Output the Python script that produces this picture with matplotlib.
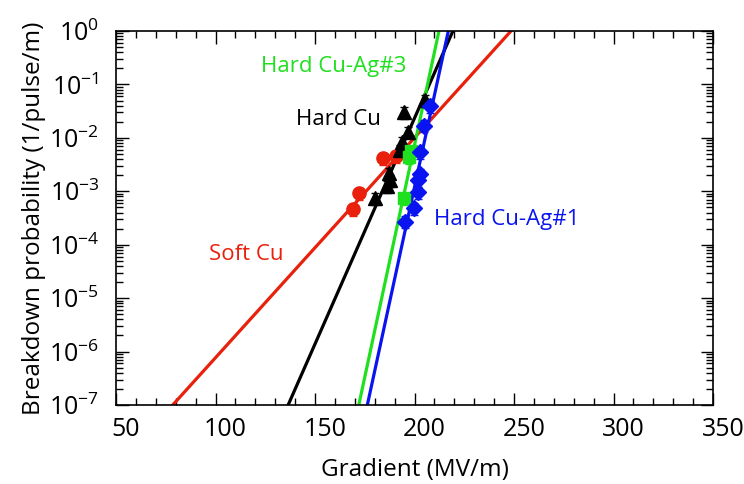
import matplotlib
matplotlib.use("Agg")
import matplotlib.pyplot as plt
import matplotlib.transforms as mtransforms
import numpy as np
from matplotlib.ticker import LogLocator, MultipleLocator

plt.rcParams['font.family'] = ['Open Sans', 'DejaVu Sans']
plt.rcParams['mathtext.fontset'] = 'custom'
plt.rcParams['mathtext.rm'] = 'Open Sans'
plt.rcParams['mathtext.it'] = 'Open Sans'

# Soft Cu (red circles)
soft_g = [169.1, 172.1, 184.2, 190.7]
soft_p = [4.6e-4, 9.3e-4, 4.2e-3, 4.6e-3]
soft_fit_g = [78.5, 248.5]

# Hard Cu (black triangles)
hcu_g = [180.2, 186.2, 187.7, 187.2, 192.7, 193.7, 196.7, 194.7, 205.3]
hcu_p = [7.5e-4, 1.26e-3, 1.6e-3, 2.2e-3, 5.9e-3, 8.3e-3, 1.3e-2, 3.0e-2, 5.1e-2]
hcu_fit_g = [136.5, 219.3]

# Hard Cu-Ag#3 (green)
ag3_g = [194.7, 197.2, 198.2]
ag3_p = [7.5e-4, 4.4e-3, 5.6e-3]
ag3_fit_g = [172.0, 212.3]

# Hard Cu-Ag#1 (blue diamonds)
ag1_g = [195.2, 199.7, 201.8, 201.8, 202.8, 202.8, 204.8, 207.8]
ag1_p = [2.7e-4, 4.9e-4, 9.7e-4, 1.6e-3, 2.1e-3, 5.4e-3, 1.7e-2, 3.9e-2]
ag1_fit_g = [176.3, 217.0]

fit_p = [1e-7, 1e0]

x_ticks = [50, 100, 150, 200, 250, 300, 350]
y_exponents = list(range(-7, 1))

red = '#e8200c'
black = '#000000'
green = '#1fe01f'
blue = '#0a14f0'

fig = plt.figure(figsize=(7.44, 4.84), dpi=100)
ax = fig.add_axes([116/744, 1-405/484, (713-116)/744, (405-31)/484])

lw = 2.3
ax.plot(soft_fit_g, fit_p, color=red, lw=lw)
ax.plot(hcu_fit_g, fit_p, color=black, lw=lw)
ax.plot(ag3_fit_g, fit_p, color=green, lw=lw)
ax.plot(ag1_fit_g, fit_p, color=blue, lw=lw)

def eb(g, p, fmt, c, ms):
    p = np.array(p)
    ax.errorbar(g, p, yerr=[p*0.25, p*0.25], fmt=fmt, color=c, ms=ms,
                capsize=3, lw=1.5)

eb(soft_g, soft_p, 'o', red, 9.5)
eb(hcu_g, hcu_p, '^', black, 9.5)
eb(ag3_g, ag3_p, 's', green, 8.5)
eb(ag1_g, ag1_p, 'D', blue, 8.5)

ax.set_yscale('log')
ax.set_xlim(50, 350)
ax.set_ylim(1e-7, 1e0)

ax.set_xticks(x_ticks)
ax.xaxis.set_minor_locator(MultipleLocator(10))
ax.set_yticks([10.0**k for k in y_exponents])
ax.set_yticklabels([r'$10^{%d}$' % k for k in y_exponents])
ax.yaxis.set_minor_locator(LogLocator(base=10, subs=np.arange(2, 10), numticks=20))

ax.tick_params(which='both', direction='in', top=True, right=True, labelsize=18, width=1)
ax.tick_params(which='major', length=9)
ax.tick_params(which='minor', length=5)
ax.tick_params(axis='x', pad=9)
ax.tick_params(axis='y', pad=12)
for s in ax.spines.values():
    s.set_linewidth(1.2)

offset = mtransforms.ScaledTranslation(10/100, 0, fig.dpi_scale_trans)
for lab in ax.get_xticklabels():
    lab.set_transform(lab.get_transform() + offset)

ax.set_xlabel('Gradient (MV/m)', fontsize=17.5, labelpad=11)
ax.set_ylabel('Breakdown probability (1/pulse/m)', fontsize=17.5, labelpad=2)

ax.text(0.364, 0.905, 'Hard Cu-Ag#3', transform=ax.transAxes, color=green, fontsize=16, ha='center', va='center')
ax.text(0.372, 0.763, 'Hard Cu', transform=ax.transAxes, color=black, fontsize=16, ha='center', va='center')
ax.text(0.219, 0.403, 'Soft Cu', transform=ax.transAxes, color=red, fontsize=16, ha='center', va='center')
ax.text(0.655, 0.495, 'Hard Cu-Ag#1', transform=ax.transAxes, color=blue, fontsize=16, ha='center', va='center')

fig.savefig('out.png', dpi=100)
